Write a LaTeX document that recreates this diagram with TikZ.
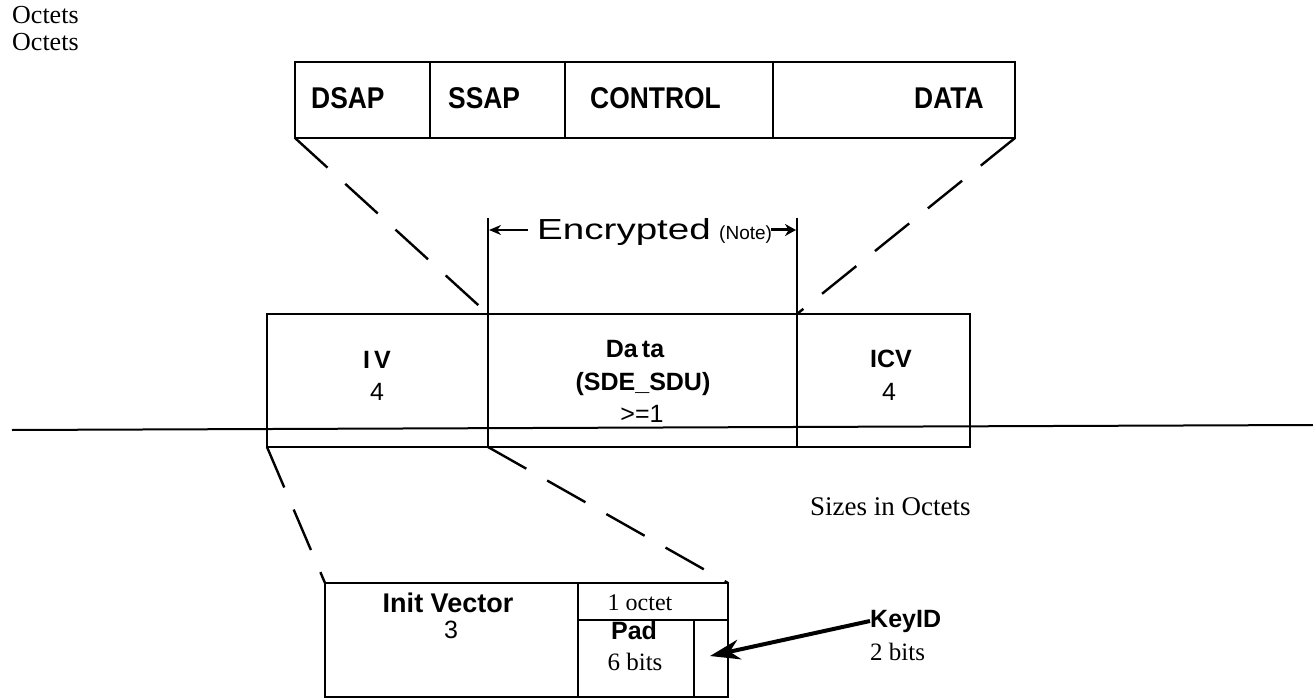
\documentclass[tikz,border=0pt]{standalone}
\usepackage{fontspec}
\usepackage{graphicx}
\setmainfont{Liberation Serif}
\newfontfamily\arialf{Liberation Sans}
\newfontfamily\arialn[FakeStretch=0.88]{Liberation Sans}
\usetikzlibrary{arrows.meta}
\newcommand\fsz[1]{\fontsize{#1}{#1}\selectfont}

\begin{document}
\begin{tikzpicture}[x=1pt,y=-1pt,
  frame/.style={line width=2.4pt, line join=miter},
  rule/.style={line width=2pt},
  guide/.style={line width=2.4pt, dash pattern=on 44pt off 24pt},
  hdr/.style={inner sep=0pt, font=\arialn\bfseries\fsz{30}},
  fld/.style={inner sep=0pt, font=\arialf\bfseries\fsz{25}},
  num/.style={inner sep=0pt, font=\arialf\fsz{25}},
  serif/.style={inner sep=0pt, font=\fsz{24}},
]
\useasboundingbox (0,0) rectangle (1313,700);

% corner points used by the connectors
\coordinate (tBL) at (295,138);
\coordinate (tBR) at (1015,138);
\coordinate (mTL) at (267,314);
\coordinate (mTR) at (970,314);
\coordinate (mBL) at (267,447);
\coordinate (mBR) at (970,447);
\coordinate (mD1T) at (488,314);
\coordinate (mD1B) at (488,447);
\coordinate (mD2T) at (797,314);
\coordinate (mD2B) at (797,447);
\coordinate (bTL) at (325,583);
\coordinate (bTR) at (728,583);
\coordinate (bBR) at (728,697);

% page header
\node[serif, anchor=base west, font=\fsz{26}] (oct1) at (12,24) {Octets};
\node[serif, anchor=base west, font=\fsz{26}] (oct2) at (12,51) {Octets};

% LLC frame
\draw[frame] (295,62) rectangle (tBR);
\draw[frame] (430,62) -- (430,138);
\draw[frame] (565,62) -- (565,138);
\draw[frame] (773,62) -- (773,138);
\node[hdr, anchor=base west] (dsap) at (311,109) {DSAP};
\node[hdr, anchor=base west] (ssap) at (448,109) {SSAP};
\node[hdr, anchor=base west] (ctrl) at (590,109) {CONTROL};
\node[hdr, anchor=base west] (data) at (914,109) {DATA};

% encrypted span
\coordinate (encL) at (488,218);
\coordinate (encR) at (797,218);
\draw[rule] (encL) -- (mD1T);
\draw[rule] (encR) -- (mD2T);
\coordinate (encLa) at (528,230);
\coordinate (encLb) at (489,230);
\coordinate (encRa) at (771,230);
\coordinate (encRb) at (796,230);
\draw[line width=2pt, -{Stealth[length=12pt,width=10pt]}] (encLa) -- (encLb);
\draw[line width=3pt, -{Stealth[length=11pt,width=12pt]}] (encRa) -- (encRb);
\node[inner sep=0pt, anchor=base west, font=\arialf\fsz{29}] (enc) at (537,240)
  {\scalebox{1.33}[1]{Encrypted}};
\node[inner sep=0pt, anchor=base west, font=\arialf\fsz{19}] (note) at (719,240) {(Note)};

% SDE frame
\draw[frame] (mTL) rectangle (mBR);
\draw[frame] (mD1T) -- (mD1B);
\draw[frame] (mD2T) -- (mD2B);
\draw[rule] (12,430) -- (1313,425);
\node[fld, anchor=base] (iv) at (377,368) {I\,V};
\node[num, anchor=base] (ivn) at (377,400) {4};
\node[fld, anchor=base] (sdu) at (635,357) {Da\,ta};
\node[fld, anchor=base] (sdu2) at (643,390) {(SDE\_SDU)};
\node[num, anchor=base] (sdun) at (642,422) {>=1};
\node[fld, anchor=base] (icv) at (891,367) {ICV};
\node[num, anchor=base] (icvn) at (889,400) {4};

\node[serif, anchor=base west, font=\fsz{27}] (sizes) at (810,515) {Sizes in Octets};

% IV detail frame
\draw[frame] (325,583) rectangle (bBR);
\draw[frame] (578,583) -- (578,697);
\draw[frame] (578,620) -- (728,620);
\draw[frame] (694,620) -- (694,697);
\node[fld, anchor=base, font=\arialf\bfseries\fsz{27}] (initv) at (448,612) {Init Vector};
\node[num, anchor=base] (initn) at (451,638) {3};
\node[serif, anchor=base, font=\fsz{24}] (one) at (640,610) {1 octet};
\node[fld, anchor=base] (pad) at (634,639) {Pad};
\node[serif, anchor=base, font=\fsz{25}] (padn) at (635,670) {6 bits};

% key id pointer
\node[fld, anchor=base west] (key) at (870,627) {KeyID};
\node[serif, anchor=base west, font=\fsz{25}] (keyn) at (870,660) {2 bits};
\coordinate (keytip) at (710,656);
\draw[line width=4pt, -{Stealth[length=30pt,width=20pt]}] (key.west) -- (keytip);

% expansion guides
\draw[guide] (tBL) -- (mD1T);
\draw[guide] (tBR) -- (mD2T);
\draw[guide] (mBL) -- (bTL);
\draw[guide] (mD1B) -- (bTR);
\end{tikzpicture}
\end{document}
